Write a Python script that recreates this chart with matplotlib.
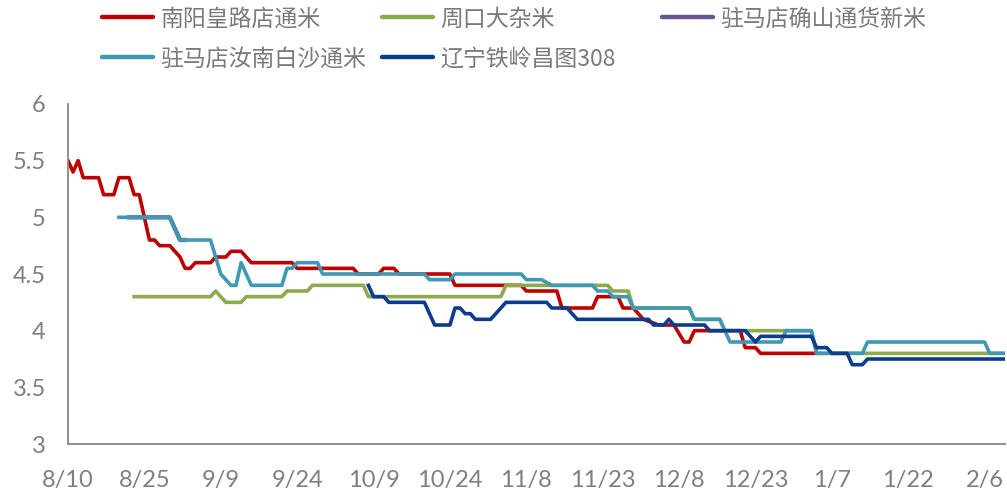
import matplotlib
matplotlib.use("Agg")
import matplotlib.pyplot as plt
from matplotlib.lines import Line2D

# days counted from 8/10
tick_labels = ['8/10', '8/25', '9/9', '9/24', '10/9', '10/24', '11/8',
               '11/23', '12/8', '12/23', '1/7', '1/22', '2/6']

red_day = [0, 1, 2, 3, 6, 7, 9, 10, 12, 13, 14, 15, 16, 17, 18, 20, 21, 22, 23, 24,
           25, 28, 29, 31, 32, 34, 36, 44, 45, 56, 57, 61, 62, 64, 65, 75, 76, 89, 90,
           96, 97, 103, 104, 108, 109, 111, 113, 116, 119, 121, 122, 123, 132, 133,
           135, 136, 147]
red_val = [5.5, 5.4, 5.5, 5.35, 5.35, 5.2, 5.2, 5.35, 5.35, 5.2, 5.2, 5.0, 4.8, 4.8,
           4.75, 4.75, 4.7, 4.65, 4.55, 4.55, 4.6, 4.6, 4.65, 4.65, 4.7, 4.7, 4.6, 4.6,
           4.55, 4.55, 4.5, 4.5, 4.55, 4.55, 4.5, 4.5, 4.4, 4.4, 4.35, 4.35, 4.2, 4.2,
           4.3, 4.3, 4.2, 4.2, 4.1, 4.05, 4.05, 3.9, 3.9, 4.0, 4.0, 3.85, 3.85, 3.8, 3.8]

green_day = [13, 28, 29, 31, 34, 35, 42, 43, 47, 48, 58, 59, 85, 86, 106, 107, 110,
             111, 122, 123, 128, 129, 146, 147, 184]
green_val = [4.3, 4.3, 4.35, 4.25, 4.25, 4.3, 4.3, 4.35, 4.35, 4.4, 4.4, 4.3, 4.3,
             4.4, 4.4, 4.35, 4.35, 4.2, 4.2, 4.1, 4.1, 4.0, 4.0, 3.8, 3.8]

purple_day = [12, 20, 22, 23]
purple_val = [5.0, 5.0, 4.8, 4.8]

teal_day = [10, 20, 22, 28, 30, 31, 32, 33, 34, 36, 42, 43, 44, 45, 49, 50, 70, 71,
            75, 76, 89, 90, 93, 95, 103, 104, 106, 107, 110, 111, 122, 123, 128, 130,
            140, 141, 146, 147, 156, 157, 180, 181, 184]
teal_val = [5.0, 5.0, 4.8, 4.8, 4.5, 4.45, 4.4, 4.4, 4.6, 4.4, 4.4, 4.55, 4.55, 4.6,
            4.6, 4.5, 4.5, 4.45, 4.45, 4.5, 4.5, 4.45, 4.45, 4.4, 4.4, 4.35, 4.35, 4.3,
            4.3, 4.2, 4.2, 4.1, 4.1, 3.9, 3.9, 4.0, 4.0, 3.8, 3.8, 3.9, 3.9, 3.8, 3.8]

blue_day = [59, 60, 62, 63, 70, 72, 75, 76, 77, 78, 79, 80, 83, 86, 94, 95, 98, 100,
            114, 115, 117, 118, 119, 125, 126, 133, 135, 136, 146, 147, 149, 150, 153,
            154, 156, 157, 184]
blue_val = [4.4, 4.3, 4.3, 4.25, 4.25, 4.05, 4.05, 4.2, 4.2, 4.15, 4.15, 4.1, 4.1,
            4.25, 4.25, 4.2, 4.2, 4.1, 4.1, 4.05, 4.05, 4.1, 4.05, 4.05, 4.0, 4.0, 3.9,
            3.95, 3.95, 3.85, 3.85, 3.8, 3.8, 3.7, 3.7, 3.75, 3.75]

names = ['南阳皇路店通米', '周口大杂米', '驻马店确山通货新米', '驻马店汝南白沙通米', '辽宁铁岭昌图308']
colors = ['#C00000', '#8EAA4E', '#6B5496', '#4099B4', '#0B3D8C']

fig = plt.figure(figsize=(10.07, 4.95), dpi=100)
ax = fig.add_axes([0.0675, 0.103, 0.9305, 0.6869])

ax.plot(red_day, red_val, color=colors[0], lw=2.6, solid_joinstyle='round')
ax.plot(green_day, green_val, color=colors[1], lw=2.6, solid_joinstyle='round')
ax.plot(purple_day, purple_val, color=colors[2], lw=3.1, solid_joinstyle='round')
ax.plot(teal_day, teal_val, color=colors[3], lw=2.6, solid_joinstyle='round')
ax.plot(blue_day, blue_val, color=colors[4], lw=2.6, solid_joinstyle='round')

ax.set_xlim(0, 184)
ax.set_ylim(3, 6)
ax.set_xticks(range(0, 181, 15))
ax.set_xticklabels(tick_labels)
ax.set_yticks([3, 3.5, 4, 4.5, 5, 5.5, 6])
ax.set_yticklabels(['3', '3.5', '4', '4.5', '5', '5.5', '6'])
ax.tick_params(axis='both', length=0, labelsize=17, labelcolor='#7f7f7f')
ax.tick_params(axis='x', pad=19)
ax.tick_params(axis='y', pad=16)
for lab in ax.get_xticklabels() + ax.get_yticklabels():
    lab.set_family(['Lato', 'DejaVu Sans'])

for s in ['top', 'right']:
    ax.spines[s].set_visible(False)
for s in ['left', 'bottom']:
    ax.spines[s].set_color('#878787')
    ax.spines[s].set_linewidth(1.3)

# legend entries placed one by one, like the Excel layout
spots = [(101.7, 19), (381.7, 19), (661.7, 19), (101.7, 59), (381.7, 59)]
for name, c, (px, py) in zip(names, colors, spots):
    h = Line2D([], [], color=c, lw=3.2, solid_capstyle='round')
    leg = fig.legend([h], [name], loc='center left',
                     bbox_to_anchor=(px / 1007, 1 - py / 495),
                     frameon=False, borderpad=0, borderaxespad=0,
                     handlelength=2.25, handletextpad=0.3,
                     prop={'family': ['Noto Sans CJK SC', 'DejaVu Sans'], 'size': 16.5})
    for t in leg.get_texts():
        t.set_color('#7a7a7a')

fig.savefig('out.png', dpi=100)
